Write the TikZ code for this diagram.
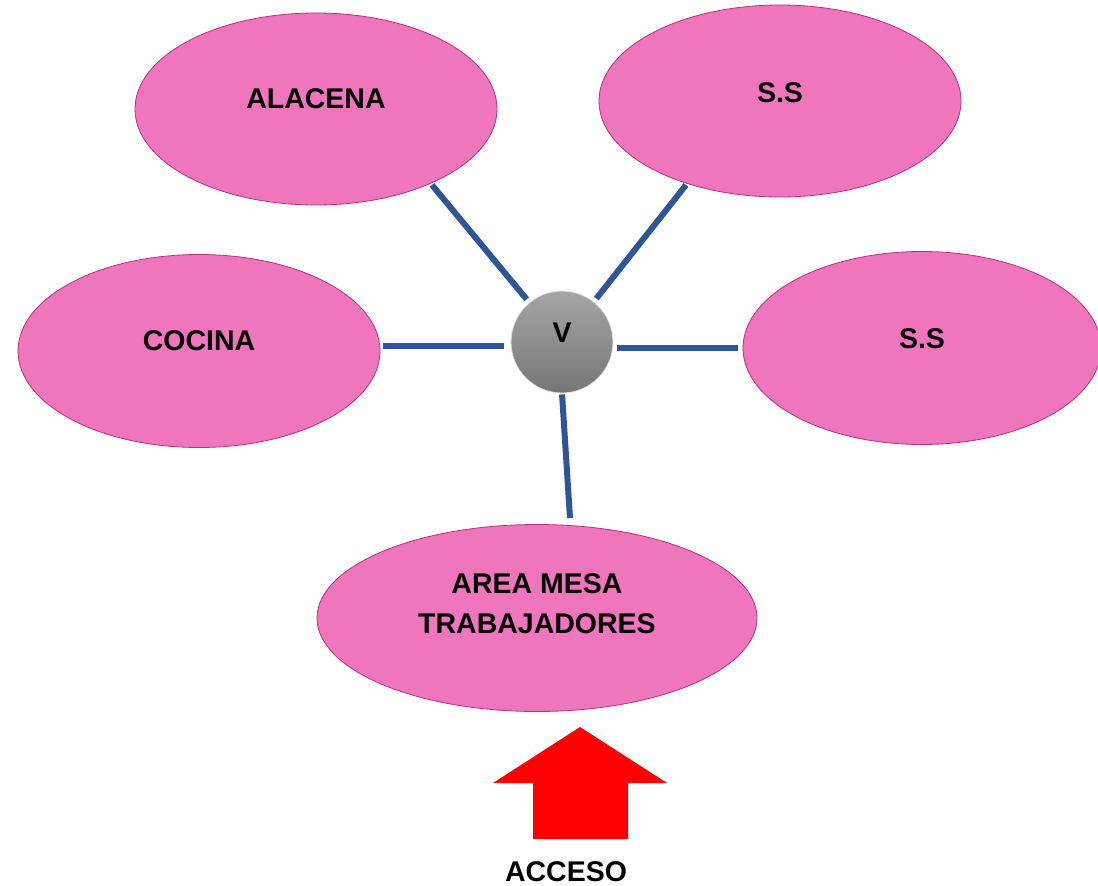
\documentclass[tikz,border=0pt]{standalone}
\usepackage{fontspec}
\setmainfont{Liberation Sans}
\usetikzlibrary{shapes.geometric,calc}
\definecolor{pinkfill}{HTML}{EF75BC}
\definecolor{pinkedge}{HTML}{B8307F}
\definecolor{linkblue}{HTML}{2F5597}
\definecolor{arrowred}{HTML}{FF0000}
\tikzset{
  room/.style={ellipse, fill=pinkfill, draw=pinkedge, line width=0.8pt, inner sep=0pt},
  lbl/.style={font=\fontsize{28.5}{40}\selectfont\bfseries, text=black, align=center},
  link/.style={draw=linkblue, line width=6pt},
  hub/.style={circle, minimum size=102pt, inner sep=0pt, draw=white!80!gray, line width=0.8pt,
    top color={rgb,255:red,165;green,165;blue,165}, bottom color={rgb,255:red,118;green,118;blue,118}},
}
\begin{document}
\begin{tikzpicture}[x=1pt,y=-1pt]
\useasboundingbox (0,0) rectangle (1098,886);
\node[room, minimum width=362pt, minimum height=192pt, label={[lbl,yshift=10pt]center:ALACENA}] (alacena) at (316,109) {};
\node[room, minimum width=362pt, minimum height=192pt, label={[lbl,yshift=8pt]center:S.S}] (ss1) at (780,101) {};
\node[room, minimum width=362pt, minimum height=193pt, label={[lbl,yshift=10pt]center:COCINA}] (cocina) at (199,351) {};
\node[room, minimum width=358pt, minimum height=193pt, label={[lbl,yshift=9pt]center:S.S}] (ss2) at (922,348) {};
\node[room, minimum width=440pt, minimum height=187pt, label={[lbl,yshift=14pt]center:AREA MESA\\TRABAJADORES}] (mesa) at (537,618) {};
\node[hub] (v) at (562,342) {};
\node[lbl] at (562,333) {V};
% connector ends
\coordinate (a1) at (432,185);
\coordinate (b1) at (686,185);
\coordinate (c1) at (383,346);
\coordinate (d1) at (738,348);
\coordinate (e1) at (570,518);
\draw[link, shorten >=4pt] (a1) -- (v);
\draw[link, shorten >=4pt] (b1) -- (v);
\draw[link, shorten >=7pt] (c1) -- (c1 -| v.west);
\draw[link, shorten >=4pt] (d1) -- (d1 -| v.east);
\draw[link, shorten >=1pt] (e1) -- (v.south);
% access arrow
\fill[arrowred] (580,727) -- (667,783) -- (628,783) -- (628,839) -- (533,839) -- (533,783) -- (493,783) -- cycle;
\node[lbl] (acceso) at (566,872) {ACCESO};
\end{tikzpicture}
\end{document}
